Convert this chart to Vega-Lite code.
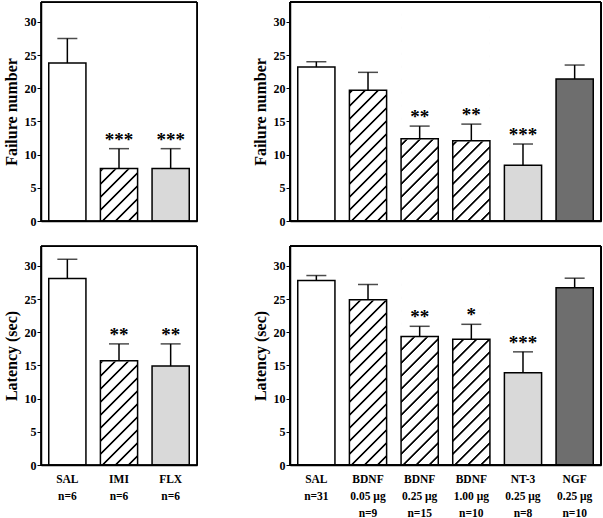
{
"$schema": "https://vega.github.io/schema/vega-lite/v6.json",
"background": "white",
"padding": {"left": 2, "top": 1, "right": 1, "bottom": 0},
"datasets": {
"tl": [
{"label":"SAL|n=6","drug":"SAL","mean":23.8,"upper":27.5,"sig":""},
{"label":"IMI|n=6","drug":"IMI","mean":7.9,"upper":10.9,"sig":"***"},
{"label":"FLX|n=6","drug":"FLX","mean":7.9,"upper":10.9,"sig":"***"}],
"tr": [
{"label":"SAL||n=31","drug":"SAL","mean":23.2,"upper":24.0,"sig":""},
{"label":"BDNF|0.05 μg|n=9","drug":"BDNF","mean":19.7,"upper":22.4,"sig":""},
{"label":"BDNF|0.25 μg|n=15","drug":"BDNF","mean":12.4,"upper":14.3,"sig":"**"},
{"label":"BDNF|1.00 μg|n=10","drug":"BDNF","mean":12.1,"upper":14.6,"sig":"**"},
{"label":"NT-3|0.25 μg|n=8","drug":"NT-3","mean":8.4,"upper":11.6,"sig":"***"},
{"label":"NGF|0.25 μg|n=10","drug":"NGF","mean":21.4,"upper":23.5,"sig":""}],
"bl": [
{"label":"SAL|n=6","drug":"SAL","mean":28.1,"upper":31.0,"sig":""},
{"label":"IMI|n=6","drug":"IMI","mean":15.7,"upper":18.25,"sig":"**"},
{"label":"FLX|n=6","drug":"FLX","mean":14.9,"upper":18.25,"sig":"**"}],
"br": [
{"label":"SAL||n=31","drug":"SAL","mean":27.8,"upper":28.55,"sig":""},
{"label":"BDNF|0.05 μg|n=9","drug":"BDNF","mean":24.9,"upper":27.2,"sig":""},
{"label":"BDNF|0.25 μg|n=15","drug":"BDNF","mean":19.35,"upper":20.9,"sig":"**"},
{"label":"BDNF|1.00 μg|n=10","drug":"BDNF","mean":18.95,"upper":21.2,"sig":"*"},
{"label":"NT-3|0.25 μg|n=8","drug":"NT-3","mean":13.9,"upper":17.05,"sig":"***"},
{"label":"NGF|0.25 μg|n=10","drug":"NGF","mean":26.7,"upper":28.15,"sig":""}]
},
"config": {
"font": "Liberation Serif",
"view": {"stroke": "black", "strokeWidth": 1},
"axis": {"domainColor": "black", "domainWidth": 1.5, "grid": false, "labelColor": "black", "labelFont": "Liberation Serif", "labelFontWeight": "bold", "titleColor": "black", "titleFont": "Liberation Serif", "titleFontWeight": "bold"},
"axisY": {"labelFontSize": 12, "tickSize": 4, "tickColor": "black", "tickWidth": 1, "labelPadding": 1, "titleFontSize": 16, "titlePadding": 5},
"axisX": {"ticks": false, "labelFontSize": 11.5, "labelAngle": 0, "labelPadding": 8, "labelLineHeight": 17, "labelOverlap": false}
},
"spacing": 12,
"vconcat": [
{"spacing": 53, "hconcat": [
{"width": 156, "height": 219, "data": {"name": "tl"},
 "layer": [
 {"encoding": {"x": {"field": "label", "type": "nominal", "title": null, "scale": {"domain": ["SAL|n=6","IMI|n=6","FLX|n=6"], "paddingInner": 0.28, "paddingOuter": 0.15}, "axis": {"labels": false}}},
 "layer": [
  {"transform": [{"filter": "datum.drug === 'IMI' || datum.drug === 'BDNF'"}],
   "mark": {"type": "bar", "strokeWidth": 0, "fill": {"gradient":"linear","x1":0,"y1":0,"x2":0.2048,"y2":1.1694,"stops":[
{"offset":0.0188,"color":"#fff"},{"offset":0.0227,"color":"#000"},{"offset":0.0281,"color":"#000"},{"offset":0.0320,"color":"#fff"},
{"offset":0.0695,"color":"#fff"},{"offset":0.0734,"color":"#000"},{"offset":0.0789,"color":"#000"},{"offset":0.0828,"color":"#fff"},
{"offset":0.1203,"color":"#fff"},{"offset":0.1242,"color":"#000"},{"offset":0.1297,"color":"#000"},{"offset":0.1336,"color":"#fff"},
{"offset":0.1711,"color":"#fff"},{"offset":0.1750,"color":"#000"},{"offset":0.1805,"color":"#000"},{"offset":0.1844,"color":"#fff"},
{"offset":0.2219,"color":"#fff"},{"offset":0.2258,"color":"#000"},{"offset":0.2313,"color":"#000"},{"offset":0.2352,"color":"#fff"},
{"offset":0.2727,"color":"#fff"},{"offset":0.2766,"color":"#000"},{"offset":0.2820,"color":"#000"},{"offset":0.2859,"color":"#fff"},
{"offset":0.3234,"color":"#fff"},{"offset":0.3273,"color":"#000"},{"offset":0.3328,"color":"#000"},{"offset":0.3367,"color":"#fff"},
{"offset":0.3742,"color":"#fff"},{"offset":0.3781,"color":"#000"},{"offset":0.3836,"color":"#000"},{"offset":0.3875,"color":"#fff"},
{"offset":0.4250,"color":"#fff"},{"offset":0.4289,"color":"#000"},{"offset":0.4344,"color":"#000"},{"offset":0.4383,"color":"#fff"},
{"offset":0.4758,"color":"#fff"},{"offset":0.4797,"color":"#000"},{"offset":0.4852,"color":"#000"},{"offset":0.4891,"color":"#fff"},
{"offset":0.5266,"color":"#fff"},{"offset":0.5305,"color":"#000"},{"offset":0.5359,"color":"#000"},{"offset":0.5398,"color":"#fff"},
{"offset":0.5773,"color":"#fff"},{"offset":0.5813,"color":"#000"},{"offset":0.5867,"color":"#000"},{"offset":0.5906,"color":"#fff"},
{"offset":0.6281,"color":"#fff"},{"offset":0.6320,"color":"#000"},{"offset":0.6375,"color":"#000"},{"offset":0.6414,"color":"#fff"},
{"offset":0.6789,"color":"#fff"},{"offset":0.6828,"color":"#000"},{"offset":0.6883,"color":"#000"},{"offset":0.6922,"color":"#fff"},
{"offset":0.7297,"color":"#fff"},{"offset":0.7336,"color":"#000"},{"offset":0.7391,"color":"#000"},{"offset":0.7430,"color":"#fff"},
{"offset":0.7805,"color":"#fff"},{"offset":0.7844,"color":"#000"},{"offset":0.7898,"color":"#000"},{"offset":0.7938,"color":"#fff"},
{"offset":0.8313,"color":"#fff"},{"offset":0.8352,"color":"#000"},{"offset":0.8406,"color":"#000"},{"offset":0.8445,"color":"#fff"},
{"offset":0.8820,"color":"#fff"},{"offset":0.8859,"color":"#000"},{"offset":0.8914,"color":"#000"},{"offset":0.8953,"color":"#fff"},
{"offset":0.9328,"color":"#fff"},{"offset":0.9367,"color":"#000"},{"offset":0.9422,"color":"#000"},{"offset":0.9461,"color":"#fff"}]}},
   "encoding": {"y": {"datum": 32, "type": "quantitative", "title": "Failure number", "scale": {"domain": [0, 33], "nice": false}, "axis": {"values": [0,5,10,15,20,25,30]}}, "y2": {"datum": 0}}},
  {"transform": [{"filter": "datum.drug === 'IMI' || datum.drug === 'BDNF'"}],
   "mark": {"type": "bar", "fill": "white", "stroke": "white", "strokeWidth": 1.5},
   "encoding": {"y": {"field": "mean", "type": "quantitative", "title": "Failure number", "scale": {"domain": [0, 33], "nice": false}, "axis": {"values": [0,5,10,15,20,25,30]}}, "y2": {"datum": 32}}},
  {"mark": {"type": "bar", "stroke": "black", "strokeWidth": 1.5},
   "encoding": {"y": {"field": "mean", "type": "quantitative", "title": "Failure number", "scale": {"domain": [0, 33], "nice": false}, "axis": {"values": [0,5,10,15,20,25,30]}},
    "fill": {"field": "drug", "type": "nominal", "legend": null, "scale": {"domain": ["SAL","IMI","FLX","BDNF","NT-3","NGF"], "range": ["white","transparent","#d9d9d9","transparent","#d9d9d9","#6e6e6e"]}}}},
  {"mark": {"type": "rule", "color": "black", "strokeWidth": 1.5},
   "encoding": {"y": {"field": "mean", "type": "quantitative", "title": "Failure number", "scale": {"domain": [0, 33], "nice": false}, "axis": {"values": [0,5,10,15,20,25,30]}}, "y2": {"field": "upper"}}},
  {"mark": {"type": "tick", "color": "black", "thickness": 1.5, "size": 20},
   "encoding": {"y": {"field": "upper", "type": "quantitative", "title": "Failure number", "scale": {"domain": [0, 33], "nice": false}, "axis": {"values": [0,5,10,15,20,25,30]}}}},
  {"mark": {"type": "text", "font": "Liberation Serif", "fontSize": 19, "fontWeight": "bold", "baseline": "alphabetic", "dy": -3, "color": "black"},
   "encoding": {"y": {"field": "upper", "type": "quantitative", "title": "Failure number", "scale": {"domain": [0, 33], "nice": false}, "axis": {"values": [0,5,10,15,20,25,30]}}, "text": {"field": "sig"}}}
 ]},
 {"mark": {"type": "rect", "fill": "transparent", "stroke": "black", "strokeWidth": 1},
  "encoding": {"y": {"datum": 33, "type": "quantitative", "title": "Failure number", "scale": {"domain": [0, 33], "nice": false}, "axis": {"values": [0,5,10,15,20,25,30]}}, "y2": {"datum": 0}}}
 ]},
{"width": 311, "height": 219, "data": {"name": "tr"},
 "layer": [
 {"encoding": {"x": {"field": "label", "type": "nominal", "title": null, "scale": {"domain": ["SAL||n=31","BDNF|0.05 μg|n=9","BDNF|0.25 μg|n=15","BDNF|1.00 μg|n=10","NT-3|0.25 μg|n=8","NGF|0.25 μg|n=10"], "paddingInner": 0.28, "paddingOuter": 0.15}, "axis": {"labels": false}}},
 "layer": [
  {"transform": [{"filter": "datum.drug === 'IMI' || datum.drug === 'BDNF'"}],
   "mark": {"type": "bar", "strokeWidth": 0, "fill": {"gradient":"linear","x1":0,"y1":0,"x2":0.2048,"y2":1.1694,"stops":[
{"offset":0.0188,"color":"#fff"},{"offset":0.0227,"color":"#000"},{"offset":0.0281,"color":"#000"},{"offset":0.0320,"color":"#fff"},
{"offset":0.0695,"color":"#fff"},{"offset":0.0734,"color":"#000"},{"offset":0.0789,"color":"#000"},{"offset":0.0828,"color":"#fff"},
{"offset":0.1203,"color":"#fff"},{"offset":0.1242,"color":"#000"},{"offset":0.1297,"color":"#000"},{"offset":0.1336,"color":"#fff"},
{"offset":0.1711,"color":"#fff"},{"offset":0.1750,"color":"#000"},{"offset":0.1805,"color":"#000"},{"offset":0.1844,"color":"#fff"},
{"offset":0.2219,"color":"#fff"},{"offset":0.2258,"color":"#000"},{"offset":0.2313,"color":"#000"},{"offset":0.2352,"color":"#fff"},
{"offset":0.2727,"color":"#fff"},{"offset":0.2766,"color":"#000"},{"offset":0.2820,"color":"#000"},{"offset":0.2859,"color":"#fff"},
{"offset":0.3234,"color":"#fff"},{"offset":0.3273,"color":"#000"},{"offset":0.3328,"color":"#000"},{"offset":0.3367,"color":"#fff"},
{"offset":0.3742,"color":"#fff"},{"offset":0.3781,"color":"#000"},{"offset":0.3836,"color":"#000"},{"offset":0.3875,"color":"#fff"},
{"offset":0.4250,"color":"#fff"},{"offset":0.4289,"color":"#000"},{"offset":0.4344,"color":"#000"},{"offset":0.4383,"color":"#fff"},
{"offset":0.4758,"color":"#fff"},{"offset":0.4797,"color":"#000"},{"offset":0.4852,"color":"#000"},{"offset":0.4891,"color":"#fff"},
{"offset":0.5266,"color":"#fff"},{"offset":0.5305,"color":"#000"},{"offset":0.5359,"color":"#000"},{"offset":0.5398,"color":"#fff"},
{"offset":0.5773,"color":"#fff"},{"offset":0.5813,"color":"#000"},{"offset":0.5867,"color":"#000"},{"offset":0.5906,"color":"#fff"},
{"offset":0.6281,"color":"#fff"},{"offset":0.6320,"color":"#000"},{"offset":0.6375,"color":"#000"},{"offset":0.6414,"color":"#fff"},
{"offset":0.6789,"color":"#fff"},{"offset":0.6828,"color":"#000"},{"offset":0.6883,"color":"#000"},{"offset":0.6922,"color":"#fff"},
{"offset":0.7297,"color":"#fff"},{"offset":0.7336,"color":"#000"},{"offset":0.7391,"color":"#000"},{"offset":0.7430,"color":"#fff"},
{"offset":0.7805,"color":"#fff"},{"offset":0.7844,"color":"#000"},{"offset":0.7898,"color":"#000"},{"offset":0.7938,"color":"#fff"},
{"offset":0.8313,"color":"#fff"},{"offset":0.8352,"color":"#000"},{"offset":0.8406,"color":"#000"},{"offset":0.8445,"color":"#fff"},
{"offset":0.8820,"color":"#fff"},{"offset":0.8859,"color":"#000"},{"offset":0.8914,"color":"#000"},{"offset":0.8953,"color":"#fff"},
{"offset":0.9328,"color":"#fff"},{"offset":0.9367,"color":"#000"},{"offset":0.9422,"color":"#000"},{"offset":0.9461,"color":"#fff"}]}},
   "encoding": {"y": {"datum": 32, "type": "quantitative", "title": "Failure number", "scale": {"domain": [0, 33], "nice": false}, "axis": {"values": [0,5,10,15,20,25,30]}}, "y2": {"datum": 0}}},
  {"transform": [{"filter": "datum.drug === 'IMI' || datum.drug === 'BDNF'"}],
   "mark": {"type": "bar", "fill": "white", "stroke": "white", "strokeWidth": 1.5},
   "encoding": {"y": {"field": "mean", "type": "quantitative", "title": "Failure number", "scale": {"domain": [0, 33], "nice": false}, "axis": {"values": [0,5,10,15,20,25,30]}}, "y2": {"datum": 32}}},
  {"mark": {"type": "bar", "stroke": "black", "strokeWidth": 1.5},
   "encoding": {"y": {"field": "mean", "type": "quantitative", "title": "Failure number", "scale": {"domain": [0, 33], "nice": false}, "axis": {"values": [0,5,10,15,20,25,30]}},
    "fill": {"field": "drug", "type": "nominal", "legend": null, "scale": {"domain": ["SAL","IMI","FLX","BDNF","NT-3","NGF"], "range": ["white","transparent","#d9d9d9","transparent","#d9d9d9","#6e6e6e"]}}}},
  {"mark": {"type": "rule", "color": "black", "strokeWidth": 1.5},
   "encoding": {"y": {"field": "mean", "type": "quantitative", "title": "Failure number", "scale": {"domain": [0, 33], "nice": false}, "axis": {"values": [0,5,10,15,20,25,30]}}, "y2": {"field": "upper"}}},
  {"mark": {"type": "tick", "color": "black", "thickness": 1.5, "size": 20},
   "encoding": {"y": {"field": "upper", "type": "quantitative", "title": "Failure number", "scale": {"domain": [0, 33], "nice": false}, "axis": {"values": [0,5,10,15,20,25,30]}}}},
  {"mark": {"type": "text", "font": "Liberation Serif", "fontSize": 19, "fontWeight": "bold", "baseline": "alphabetic", "dy": -3, "color": "black"},
   "encoding": {"y": {"field": "upper", "type": "quantitative", "title": "Failure number", "scale": {"domain": [0, 33], "nice": false}, "axis": {"values": [0,5,10,15,20,25,30]}}, "text": {"field": "sig"}}}
 ]},
 {"mark": {"type": "rect", "fill": "transparent", "stroke": "black", "strokeWidth": 1},
  "encoding": {"y": {"datum": 33, "type": "quantitative", "title": "Failure number", "scale": {"domain": [0, 33], "nice": false}, "axis": {"values": [0,5,10,15,20,25,30]}}, "y2": {"datum": 0}}}
 ]}
]},
{"spacing": 53, "hconcat": [
{"width": 156, "height": 219, "data": {"name": "bl"},
 "layer": [
 {"encoding": {"x": {"field": "label", "type": "nominal", "title": null, "scale": {"domain": ["SAL|n=6","IMI|n=6","FLX|n=6"], "paddingInner": 0.28, "paddingOuter": 0.15}, "axis": {"labelExpr": "split(datum.value, '|')"}}},
 "layer": [
  {"transform": [{"filter": "datum.drug === 'IMI' || datum.drug === 'BDNF'"}],
   "mark": {"type": "bar", "strokeWidth": 0, "fill": {"gradient":"linear","x1":0,"y1":0,"x2":0.2048,"y2":1.1694,"stops":[
{"offset":0.0188,"color":"#fff"},{"offset":0.0227,"color":"#000"},{"offset":0.0281,"color":"#000"},{"offset":0.0320,"color":"#fff"},
{"offset":0.0695,"color":"#fff"},{"offset":0.0734,"color":"#000"},{"offset":0.0789,"color":"#000"},{"offset":0.0828,"color":"#fff"},
{"offset":0.1203,"color":"#fff"},{"offset":0.1242,"color":"#000"},{"offset":0.1297,"color":"#000"},{"offset":0.1336,"color":"#fff"},
{"offset":0.1711,"color":"#fff"},{"offset":0.1750,"color":"#000"},{"offset":0.1805,"color":"#000"},{"offset":0.1844,"color":"#fff"},
{"offset":0.2219,"color":"#fff"},{"offset":0.2258,"color":"#000"},{"offset":0.2313,"color":"#000"},{"offset":0.2352,"color":"#fff"},
{"offset":0.2727,"color":"#fff"},{"offset":0.2766,"color":"#000"},{"offset":0.2820,"color":"#000"},{"offset":0.2859,"color":"#fff"},
{"offset":0.3234,"color":"#fff"},{"offset":0.3273,"color":"#000"},{"offset":0.3328,"color":"#000"},{"offset":0.3367,"color":"#fff"},
{"offset":0.3742,"color":"#fff"},{"offset":0.3781,"color":"#000"},{"offset":0.3836,"color":"#000"},{"offset":0.3875,"color":"#fff"},
{"offset":0.4250,"color":"#fff"},{"offset":0.4289,"color":"#000"},{"offset":0.4344,"color":"#000"},{"offset":0.4383,"color":"#fff"},
{"offset":0.4758,"color":"#fff"},{"offset":0.4797,"color":"#000"},{"offset":0.4852,"color":"#000"},{"offset":0.4891,"color":"#fff"},
{"offset":0.5266,"color":"#fff"},{"offset":0.5305,"color":"#000"},{"offset":0.5359,"color":"#000"},{"offset":0.5398,"color":"#fff"},
{"offset":0.5773,"color":"#fff"},{"offset":0.5813,"color":"#000"},{"offset":0.5867,"color":"#000"},{"offset":0.5906,"color":"#fff"},
{"offset":0.6281,"color":"#fff"},{"offset":0.6320,"color":"#000"},{"offset":0.6375,"color":"#000"},{"offset":0.6414,"color":"#fff"},
{"offset":0.6789,"color":"#fff"},{"offset":0.6828,"color":"#000"},{"offset":0.6883,"color":"#000"},{"offset":0.6922,"color":"#fff"},
{"offset":0.7297,"color":"#fff"},{"offset":0.7336,"color":"#000"},{"offset":0.7391,"color":"#000"},{"offset":0.7430,"color":"#fff"},
{"offset":0.7805,"color":"#fff"},{"offset":0.7844,"color":"#000"},{"offset":0.7898,"color":"#000"},{"offset":0.7938,"color":"#fff"},
{"offset":0.8313,"color":"#fff"},{"offset":0.8352,"color":"#000"},{"offset":0.8406,"color":"#000"},{"offset":0.8445,"color":"#fff"},
{"offset":0.8820,"color":"#fff"},{"offset":0.8859,"color":"#000"},{"offset":0.8914,"color":"#000"},{"offset":0.8953,"color":"#fff"},
{"offset":0.9328,"color":"#fff"},{"offset":0.9367,"color":"#000"},{"offset":0.9422,"color":"#000"},{"offset":0.9461,"color":"#fff"}]}},
   "encoding": {"y": {"datum": 32, "type": "quantitative", "title": "Latency (sec)", "scale": {"domain": [0, 33], "nice": false}, "axis": {"values": [0,5,10,15,20,25,30]}}, "y2": {"datum": 0}}},
  {"transform": [{"filter": "datum.drug === 'IMI' || datum.drug === 'BDNF'"}],
   "mark": {"type": "bar", "fill": "white", "stroke": "white", "strokeWidth": 1.5},
   "encoding": {"y": {"field": "mean", "type": "quantitative", "title": "Latency (sec)", "scale": {"domain": [0, 33], "nice": false}, "axis": {"values": [0,5,10,15,20,25,30]}}, "y2": {"datum": 32}}},
  {"mark": {"type": "bar", "stroke": "black", "strokeWidth": 1.5},
   "encoding": {"y": {"field": "mean", "type": "quantitative", "title": "Latency (sec)", "scale": {"domain": [0, 33], "nice": false}, "axis": {"values": [0,5,10,15,20,25,30]}},
    "fill": {"field": "drug", "type": "nominal", "legend": null, "scale": {"domain": ["SAL","IMI","FLX","BDNF","NT-3","NGF"], "range": ["white","transparent","#d9d9d9","transparent","#d9d9d9","#6e6e6e"]}}}},
  {"mark": {"type": "rule", "color": "black", "strokeWidth": 1.5},
   "encoding": {"y": {"field": "mean", "type": "quantitative", "title": "Latency (sec)", "scale": {"domain": [0, 33], "nice": false}, "axis": {"values": [0,5,10,15,20,25,30]}}, "y2": {"field": "upper"}}},
  {"mark": {"type": "tick", "color": "black", "thickness": 1.5, "size": 20},
   "encoding": {"y": {"field": "upper", "type": "quantitative", "title": "Latency (sec)", "scale": {"domain": [0, 33], "nice": false}, "axis": {"values": [0,5,10,15,20,25,30]}}}},
  {"mark": {"type": "text", "font": "Liberation Serif", "fontSize": 19, "fontWeight": "bold", "baseline": "alphabetic", "dy": -3, "color": "black"},
   "encoding": {"y": {"field": "upper", "type": "quantitative", "title": "Latency (sec)", "scale": {"domain": [0, 33], "nice": false}, "axis": {"values": [0,5,10,15,20,25,30]}}, "text": {"field": "sig"}}}
 ]},
 {"mark": {"type": "rect", "fill": "transparent", "stroke": "black", "strokeWidth": 1},
  "encoding": {"y": {"datum": 33, "type": "quantitative", "title": "Latency (sec)", "scale": {"domain": [0, 33], "nice": false}, "axis": {"values": [0,5,10,15,20,25,30]}}, "y2": {"datum": 0}}}
 ]},
{"width": 311, "height": 219, "data": {"name": "br"},
 "layer": [
 {"encoding": {"x": {"field": "label", "type": "nominal", "title": null, "scale": {"domain": ["SAL||n=31","BDNF|0.05 μg|n=9","BDNF|0.25 μg|n=15","BDNF|1.00 μg|n=10","NT-3|0.25 μg|n=8","NGF|0.25 μg|n=10"], "paddingInner": 0.28, "paddingOuter": 0.15}, "axis": {"labelExpr": "split(datum.value, '|')"}}},
 "layer": [
  {"transform": [{"filter": "datum.drug === 'IMI' || datum.drug === 'BDNF'"}],
   "mark": {"type": "bar", "strokeWidth": 0, "fill": {"gradient":"linear","x1":0,"y1":0,"x2":0.2048,"y2":1.1694,"stops":[
{"offset":0.0188,"color":"#fff"},{"offset":0.0227,"color":"#000"},{"offset":0.0281,"color":"#000"},{"offset":0.0320,"color":"#fff"},
{"offset":0.0695,"color":"#fff"},{"offset":0.0734,"color":"#000"},{"offset":0.0789,"color":"#000"},{"offset":0.0828,"color":"#fff"},
{"offset":0.1203,"color":"#fff"},{"offset":0.1242,"color":"#000"},{"offset":0.1297,"color":"#000"},{"offset":0.1336,"color":"#fff"},
{"offset":0.1711,"color":"#fff"},{"offset":0.1750,"color":"#000"},{"offset":0.1805,"color":"#000"},{"offset":0.1844,"color":"#fff"},
{"offset":0.2219,"color":"#fff"},{"offset":0.2258,"color":"#000"},{"offset":0.2313,"color":"#000"},{"offset":0.2352,"color":"#fff"},
{"offset":0.2727,"color":"#fff"},{"offset":0.2766,"color":"#000"},{"offset":0.2820,"color":"#000"},{"offset":0.2859,"color":"#fff"},
{"offset":0.3234,"color":"#fff"},{"offset":0.3273,"color":"#000"},{"offset":0.3328,"color":"#000"},{"offset":0.3367,"color":"#fff"},
{"offset":0.3742,"color":"#fff"},{"offset":0.3781,"color":"#000"},{"offset":0.3836,"color":"#000"},{"offset":0.3875,"color":"#fff"},
{"offset":0.4250,"color":"#fff"},{"offset":0.4289,"color":"#000"},{"offset":0.4344,"color":"#000"},{"offset":0.4383,"color":"#fff"},
{"offset":0.4758,"color":"#fff"},{"offset":0.4797,"color":"#000"},{"offset":0.4852,"color":"#000"},{"offset":0.4891,"color":"#fff"},
{"offset":0.5266,"color":"#fff"},{"offset":0.5305,"color":"#000"},{"offset":0.5359,"color":"#000"},{"offset":0.5398,"color":"#fff"},
{"offset":0.5773,"color":"#fff"},{"offset":0.5813,"color":"#000"},{"offset":0.5867,"color":"#000"},{"offset":0.5906,"color":"#fff"},
{"offset":0.6281,"color":"#fff"},{"offset":0.6320,"color":"#000"},{"offset":0.6375,"color":"#000"},{"offset":0.6414,"color":"#fff"},
{"offset":0.6789,"color":"#fff"},{"offset":0.6828,"color":"#000"},{"offset":0.6883,"color":"#000"},{"offset":0.6922,"color":"#fff"},
{"offset":0.7297,"color":"#fff"},{"offset":0.7336,"color":"#000"},{"offset":0.7391,"color":"#000"},{"offset":0.7430,"color":"#fff"},
{"offset":0.7805,"color":"#fff"},{"offset":0.7844,"color":"#000"},{"offset":0.7898,"color":"#000"},{"offset":0.7938,"color":"#fff"},
{"offset":0.8313,"color":"#fff"},{"offset":0.8352,"color":"#000"},{"offset":0.8406,"color":"#000"},{"offset":0.8445,"color":"#fff"},
{"offset":0.8820,"color":"#fff"},{"offset":0.8859,"color":"#000"},{"offset":0.8914,"color":"#000"},{"offset":0.8953,"color":"#fff"},
{"offset":0.9328,"color":"#fff"},{"offset":0.9367,"color":"#000"},{"offset":0.9422,"color":"#000"},{"offset":0.9461,"color":"#fff"}]}},
   "encoding": {"y": {"datum": 32, "type": "quantitative", "title": "Latency (sec)", "scale": {"domain": [0, 33], "nice": false}, "axis": {"values": [0,5,10,15,20,25,30]}}, "y2": {"datum": 0}}},
  {"transform": [{"filter": "datum.drug === 'IMI' || datum.drug === 'BDNF'"}],
   "mark": {"type": "bar", "fill": "white", "stroke": "white", "strokeWidth": 1.5},
   "encoding": {"y": {"field": "mean", "type": "quantitative", "title": "Latency (sec)", "scale": {"domain": [0, 33], "nice": false}, "axis": {"values": [0,5,10,15,20,25,30]}}, "y2": {"datum": 32}}},
  {"mark": {"type": "bar", "stroke": "black", "strokeWidth": 1.5},
   "encoding": {"y": {"field": "mean", "type": "quantitative", "title": "Latency (sec)", "scale": {"domain": [0, 33], "nice": false}, "axis": {"values": [0,5,10,15,20,25,30]}},
    "fill": {"field": "drug", "type": "nominal", "legend": null, "scale": {"domain": ["SAL","IMI","FLX","BDNF","NT-3","NGF"], "range": ["white","transparent","#d9d9d9","transparent","#d9d9d9","#6e6e6e"]}}}},
  {"mark": {"type": "rule", "color": "black", "strokeWidth": 1.5},
   "encoding": {"y": {"field": "mean", "type": "quantitative", "title": "Latency (sec)", "scale": {"domain": [0, 33], "nice": false}, "axis": {"values": [0,5,10,15,20,25,30]}}, "y2": {"field": "upper"}}},
  {"mark": {"type": "tick", "color": "black", "thickness": 1.5, "size": 20},
   "encoding": {"y": {"field": "upper", "type": "quantitative", "title": "Latency (sec)", "scale": {"domain": [0, 33], "nice": false}, "axis": {"values": [0,5,10,15,20,25,30]}}}},
  {"mark": {"type": "text", "font": "Liberation Serif", "fontSize": 19, "fontWeight": "bold", "baseline": "alphabetic", "dy": -3, "color": "black"},
   "encoding": {"y": {"field": "upper", "type": "quantitative", "title": "Latency (sec)", "scale": {"domain": [0, 33], "nice": false}, "axis": {"values": [0,5,10,15,20,25,30]}}, "text": {"field": "sig"}}}
 ]},
 {"mark": {"type": "rect", "fill": "transparent", "stroke": "black", "strokeWidth": 1},
  "encoding": {"y": {"datum": 33, "type": "quantitative", "title": "Latency (sec)", "scale": {"domain": [0, 33], "nice": false}, "axis": {"values": [0,5,10,15,20,25,30]}}, "y2": {"datum": 0}}}
 ]}
]}
]
}
